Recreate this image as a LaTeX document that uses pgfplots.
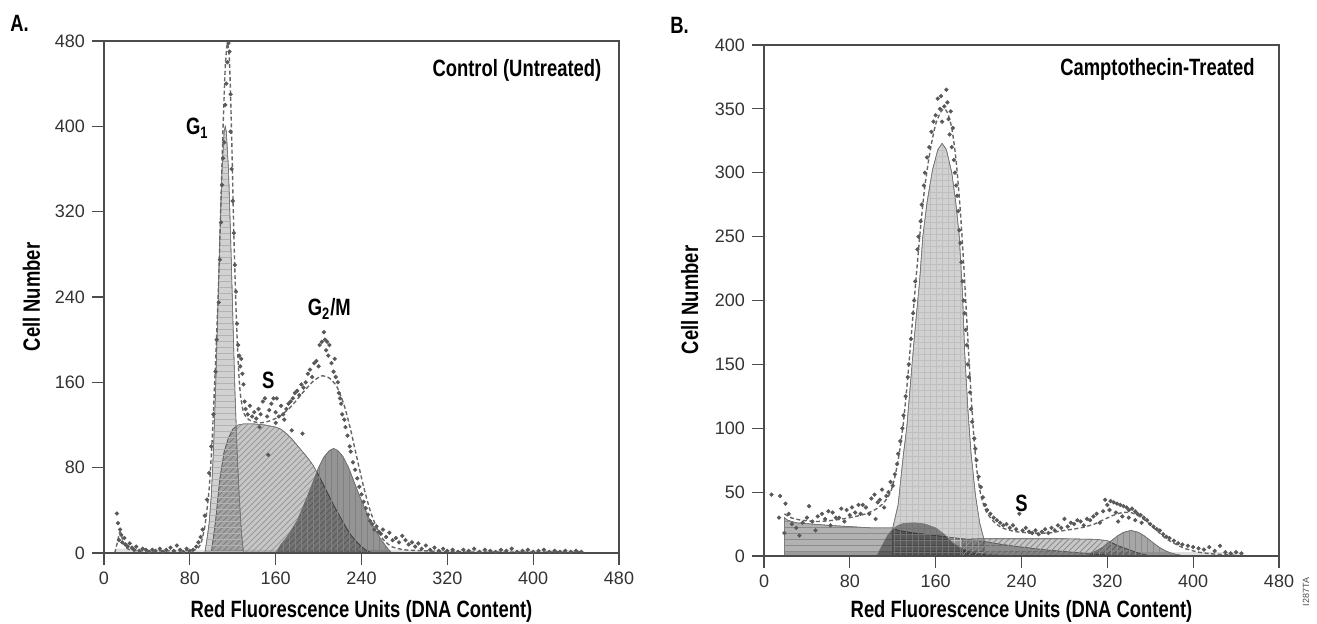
\documentclass[border=0pt]{standalone}
\usepackage{fontspec}
\setmainfont{Liberation Sans}
\newfontfamily\condfont[FakeStretch=0.78]{Liberation Sans}
\usepackage{pgfplots}
\pgfplotsset{compat=1.18}
\usetikzlibrary{patterns}

\newcommand{\lab}{\condfont\bfseries\fontsize{11.8}{13}\selectfont}

\pgfplotsset{
  flow/.style={
    scale only axis, anchor=south west,
    xmin=0, xmax=480, ymin=0,
    xtick={0,80,...,480},
    tick align=outside, tick pos=left, major tick length=6pt,
    axis line style={black!70, line width=0.6pt},
    tick style={black!70, line width=0.6pt},
    ticklabel style={font=\fontsize{9}{10}\selectfont, text=black!80},
    /pgf/number format/assume math mode=true,
    axis on top,
  },
  dots/.style={only marks, mark=*, mark size=0.85pt, black!65},
  fit/.style={no marks, smooth, tension=0.4, black!60, line width=0.7pt, dash pattern=on 2pt off 1.3pt},
  comp/.style={draw=black!55, line width=0.3pt, fill=black, fill opacity=#1},
}

\begin{document}
\begin{tikzpicture}
\useasboundingbox (0,0) rectangle (658.5pt,312pt);

% ---------------- A: control ----------------
\begin{axis}[flow, at={(52pt,35.5pt)}, width=257.5pt, height=256pt,
  ymax=480, ytick={0,80,...,480}]

% bottom strip
\addplot[comp=0.12, draw=none] coordinates {
 (10,0)(12,4)(20,4)(60,3)(100,3)(200,3)(300,3)(445,3)(445,0)} \closedcycle;

% S phase
\addplot[comp=0.22, postaction={pattern=north east lines, pattern color=black!40}] coordinates {
 (100,0)(104,30)(108,70)(112,95)(116,108)(120,116)(125,120)(130,121)(135,121)
 (140,121)(150,120)(160,118)(165,116)(170,112)(175,107)(180,101)(185,95)
 (190,89)(195,82)(200,73)(205,63)(210,53)(215,43)(220,34)(225,25)(230,17)
 (235,11)(240,6)(245,2)(250,0)} \closedcycle;

% G2/M
\addplot[comp=0.42, postaction={pattern=vertical lines, pattern color=black!50}] coordinates {
 (160,0)(165,8)(170,14)(180,30)(190,54)(200,80)(205,90)(210,96)(214,98)
 (218,96)(223,90)(228,80)(238,54)(248,30)(258,13)(263,6)(268,0)} \closedcycle;

% G1
\addplot[comp=0.18, postaction={pattern=horizontal lines, pattern color=black!30}] coordinates {
 (94,0)(96,13)(98,28)(100,54)(102,96)(104,153)(106,224)(108,297)(110,360)
 (112,395)(113,400)(114,395)(116,360)(118,297)(120,224)(122,153)(124,96)
 (126,54)(128,20)(130,0)} \closedcycle;

% fitted envelope
\addplot[fit] coordinates {
 (10,0)(12,8)(15,20)(18,10)(22,4)(30,2)(50,2)(70,2)(85,3)(90,8)(94,25)
 (98,60)(101,110)(104,180)(107,260)(109,330)(111,400)(113,455)(115,478)
 (117,460)(119,390)(121,300)(123,230)(125,180)(127,150)(130,132)(135,125)
 (145,122)(155,124)(165,129)(175,138)(185,150)(195,161)(203,166)(210,164)
 (217,156)(224,138)(230,115)(236,88)(242,62)(248,40)(254,24)(260,13)
 (268,6)(280,3)(300,2)(330,1)(445,1)};

% measured counts
\addplot[dots] coordinates {
 (12,37)(13,28)(15,22)(16,17)(14,12)(17,10)(19,14)(20,8)(22,6)(24,9)(26,5)
 (28,3)(30,6)(33,2)(36,4)(39,3)(42,1)(45,3)(48,2)(52,4)(55,1)(58,3)(62,5)
 (65,2)(68,7)(71,3)(74,1)(77,4)(80,2)(83,3)(86,6)(88,10)(90,15)(92,22)
 (94,35)(96,50)(98,75)(100,100)(102,130)(104,170)(105,200)(107,235)
 (108,275)(109,310)(110,345)(111,370)(112,385)(113,420)(114,440)(115,460)
 (116,478)(117,470)(118,430)(118,395)(119,360)(120,330)(121,300)(122,270)
 (123,245)(124,215)(125,195)(126,185)(127,175)(128,182)(129,168)(130,158)
 (131,142)(132,135)(134,130)(136,138)(138,128)(140,132)(142,126)(144,135)
 (146,130)(148,142)(150,145)(152,128)(154,134)(156,140)(158,145)(160,132)
 (161,145)(163,128)(165,138)(167,130)(168,125)(170,135)(172,140)(174,142)
 (176,145)(178,150)(180,152)(182,148)(184,158)(186,155)(188,160)(190,168)
 (192,172)(194,165)(196,178)(198,180)(200,175)(201,195)(203,198)(205,207)
 (206,200)(207,190)(208,198)(209,185)(210,195)(212,178)(214,170)(215,182)
 (216,165)(218,160)(219,150)(220,145)(221,140)(222,130)(224,125)(225,118)
 (227,110)(229,100)(230,95)(232,85)(234,78)(236,70)(238,62)(240,55)
 (242,48)(244,42)(246,36)(248,30)(250,27)(252,22)(254,25)(256,20)(258,18)
 (260,22)(263,15)(266,19)(269,12)(272,14)(275,10)(278,16)(281,12)(284,8)
 (287,10)(290,6)(293,9)(296,4)(300,7)(304,3)(308,5)(312,2)(316,4)(320,2)
 (325,3)(330,1)(335,3)(340,2)(345,4)(350,1)(355,3)(360,2)(365,1)(370,3)
 (375,2)(380,4)(385,1)(390,2)(395,3)(400,1)(405,2)(410,3)(415,1)(420,2)
 (425,1)(430,2)(435,1)(440,2)(445,1)
 (153,92)(145,118)(160,122)(175,115)(185,112)};

\node[font=\lab] at (axis cs:87,398) {G\textsubscript{1}};
\node[font=\lab] at (axis cs:153,162) {S};
\node[font=\lab] at (axis cs:210,229) {G\textsubscript{2}/M};
\end{axis}

% ---------------- B: camptothecin ----------------
\begin{axis}[flow, at={(382pt,34pt)}, width=257.5pt, height=255.5pt,
  ymax=400, ytick={0,50,...,400}]

% bottom strip
\addplot[comp=0.12, draw=none] coordinates {
 (19,0)(19,3)(100,3)(200,3)(300,3)(445,3)(445,0)} \closedcycle;

% debris
\addplot[comp=0.3, postaction={pattern=horizontal lines, pattern color=black!45}] coordinates {
 (19,0)(19,30)(22,28)(30,26)(45,25)(60,24)(80,23)(100,22)(120,22)(125,20)
 (140,18)(160,16)(180,14)(200,12)(230,8)(260,5)(300,2)(330,0)} \closedcycle;

% G1
\addplot[comp=0.18, postaction={pattern=grid, pattern color=black!25}] coordinates {
 (120,0)(120,22)(125,40)(130,80)(133,100)(137,140)(140,170)(145,215)
 (148,250)(152,277)(157,302)(162,318)(166,323)(170,318)(175,300)(179,275)
 (182,250)(185,205)(187,160)(190,115)(193,80)(197,48)(201,26)(205,13)(205,0)} \closedcycle;

% sub-G1 hump
\addplot[comp=0.4] coordinates {
 (105,0)(110,8)(115,16)(120,21)(125,24)(130,25.5)(140,26)(150,25)(160,22)
 (168,17)(175,11)(182,7)(190,4)(200,2)(215,1)(230,0)} \closedcycle;

% S phase
\addplot[comp=0.22, postaction={pattern=north east lines, pattern color=black!45}] coordinates {
 (185,0)(185,13)(200,13.5)(240,13.5)(280,13.5)(310,13)(320,12)(330,8)
 (340,5)(350,2)(360,0)} \closedcycle;

% G2/M
\addplot[comp=0.35, postaction={pattern=vertical lines, pattern color=black!45}] coordinates {
 (300,0)(305,2.4)(310,4.1)(315,6.5)(320,9.5)(325,12.8)(330,16)(335,18.5)
 (342,20)(349,18.5)(354,16)(359,12.8)(364,9.5)(369,6.5)(374,4.1)(379,2.4)
 (384,1.3)(392,0)} \closedcycle;

% fitted envelope
\addplot[fit] coordinates {
 (19,33)(25,30)(35,28)(50,27)(65,28)(80,30)(95,33)(105,37)(112,42)(118,50)
 (122,62)(126,80)(130,105)(134,140)(138,180)(142,220)(146,258)(150,290)
 (155,318)(160,338)(165,348)(168,350)(171,347)(175,335)(179,310)(183,270)
 (186,230)(189,185)(192,140)(195,100)(198,70)(202,48)(207,35)(214,27)
 (222,22)(235,19)(250,18)(265,18)(280,20)(295,22)(308,25)(318,29)(326,32)
 (334,34)(342,34)(350,31)(358,26)(366,20)(374,14)(382,10)(392,6)(405,3)
 (420,1.5)(440,0.5)};

% measured counts
\addplot[dots] coordinates {
 (7,48)(15,47)(20,41)(14,30)(19,18)(23,33)(26,25)(30,22)(33,16)(36,26)
 (40,30)(42,39)(45,27)(48,20)(50,31)(54,33)(57,29)(60,35)(62,24)(64,34)
 (67,30)(70,30)(72,37)(75,27)(77,36)(80,32)(82,38)(85,34)(88,40)(90,33)
 (92,40)(95,38)(98,33)(100,45)(103,48)(104,29)(106,42)(108,44)(110,52)
 (112,38)(114,47)(116,50)(118,58)(120,55)(122,64)(124,72)(125,80)(127,90)
 (129,100)(130,110)(132,125)(134,140)(135,150)(137,170)(139,190)(140,200)
 (141,215)(143,240)(144,250)(146,262)(147,275)(149,290)(150,300)(152,312)
 (154,320)(156,332)(158,340)(160,345)(162,358)(164,350)(165,360)(166,340)
 (168,352)(170,365)(171,355)(172,342)(173,330)(174,348)(175,320)(176,335)
 (177,310)(178,300)(179,290)(180,282)(181,270)(182,255)(183,245)(184,230)
 (185,215)(186,200)(187,190)(188,177)(189,165)(190,150)(191,140)(192,128)
 (193,115)(194,105)(196,92)(197,84)(198,75)(200,62)(202,54)(204,46)
 (206,40)(208,36)(211,33)(214,30)(217,28)(220,26)(223,24)(226,25)(229,22)
 (232,24)(235,21)(238,33)(241,20)(244,22)(247,19)(250,18)(253,20)(256,17)
 (259,19)(262,21)(265,18)(268,22)(271,20)(274,24)(277,22)(280,29)(283,23)
 (286,26)(289,25)(292,28)(295,27)(298,24)(301,29)(304,28)(307,31)(310,33)
 (313,26)(316,35)(318,44)(320,40)(323,43)(326,42)(329,41)(332,40)(335,39)
 (338,38)(340,36)(343,37)(346,35)(348,33)(351,32)(354,30)(357,28)(360,25)
 (363,23)(366,21)(369,20)(372,17)(375,15)(378,14)(382,12)(386,10)(390,9)
 (395,8)(400,7)(405,6)(410,5)(415,7)(420,4)(425,8)(430,3)(435,2)(440,3)
 (445,2)(322,36)(328,34)(334,31)(340,30)(346,28)(352,26)(330,27)};

\node[font=\lab] at (axis cs:240,41) {S};
\end{axis}

% ---------------- texts around the axes ----------------
\node[font=\lab, anchor=base west, inner sep=0] at (5pt,296pt) {A.};
\node[font=\lab, anchor=base west, inner sep=0] at (335pt,295pt) {B.};
\node[font=\lab, anchor=base east, inner sep=0] at (300.85pt,273.75pt) {Control (Untreated)};
\node[font=\lab, anchor=base east, inner sep=0] at (627.5pt,274.25pt) {Camptothecin-Treated};
\node[font=\lab, anchor=base, inner sep=0, rotate=90] at (20pt,163.5pt) {Cell Number};
\node[font=\lab, anchor=base, inner sep=0, rotate=90] at (349pt,162pt) {Cell Number};
\node[font=\lab, anchor=base, inner sep=0] at (180.75pt,3pt) {Red Fluorescence Units (DNA Content)};
\node[font=\lab, anchor=base, inner sep=0] at (510.75pt,3pt) {Red Fluorescence Units (DNA Content)};
\node[font=\fontsize{4.5}{5}\selectfont, text=black!70, rotate=90, inner sep=0] at (653pt,16pt) {I287TA};
\end{tikzpicture}
\end{document}
